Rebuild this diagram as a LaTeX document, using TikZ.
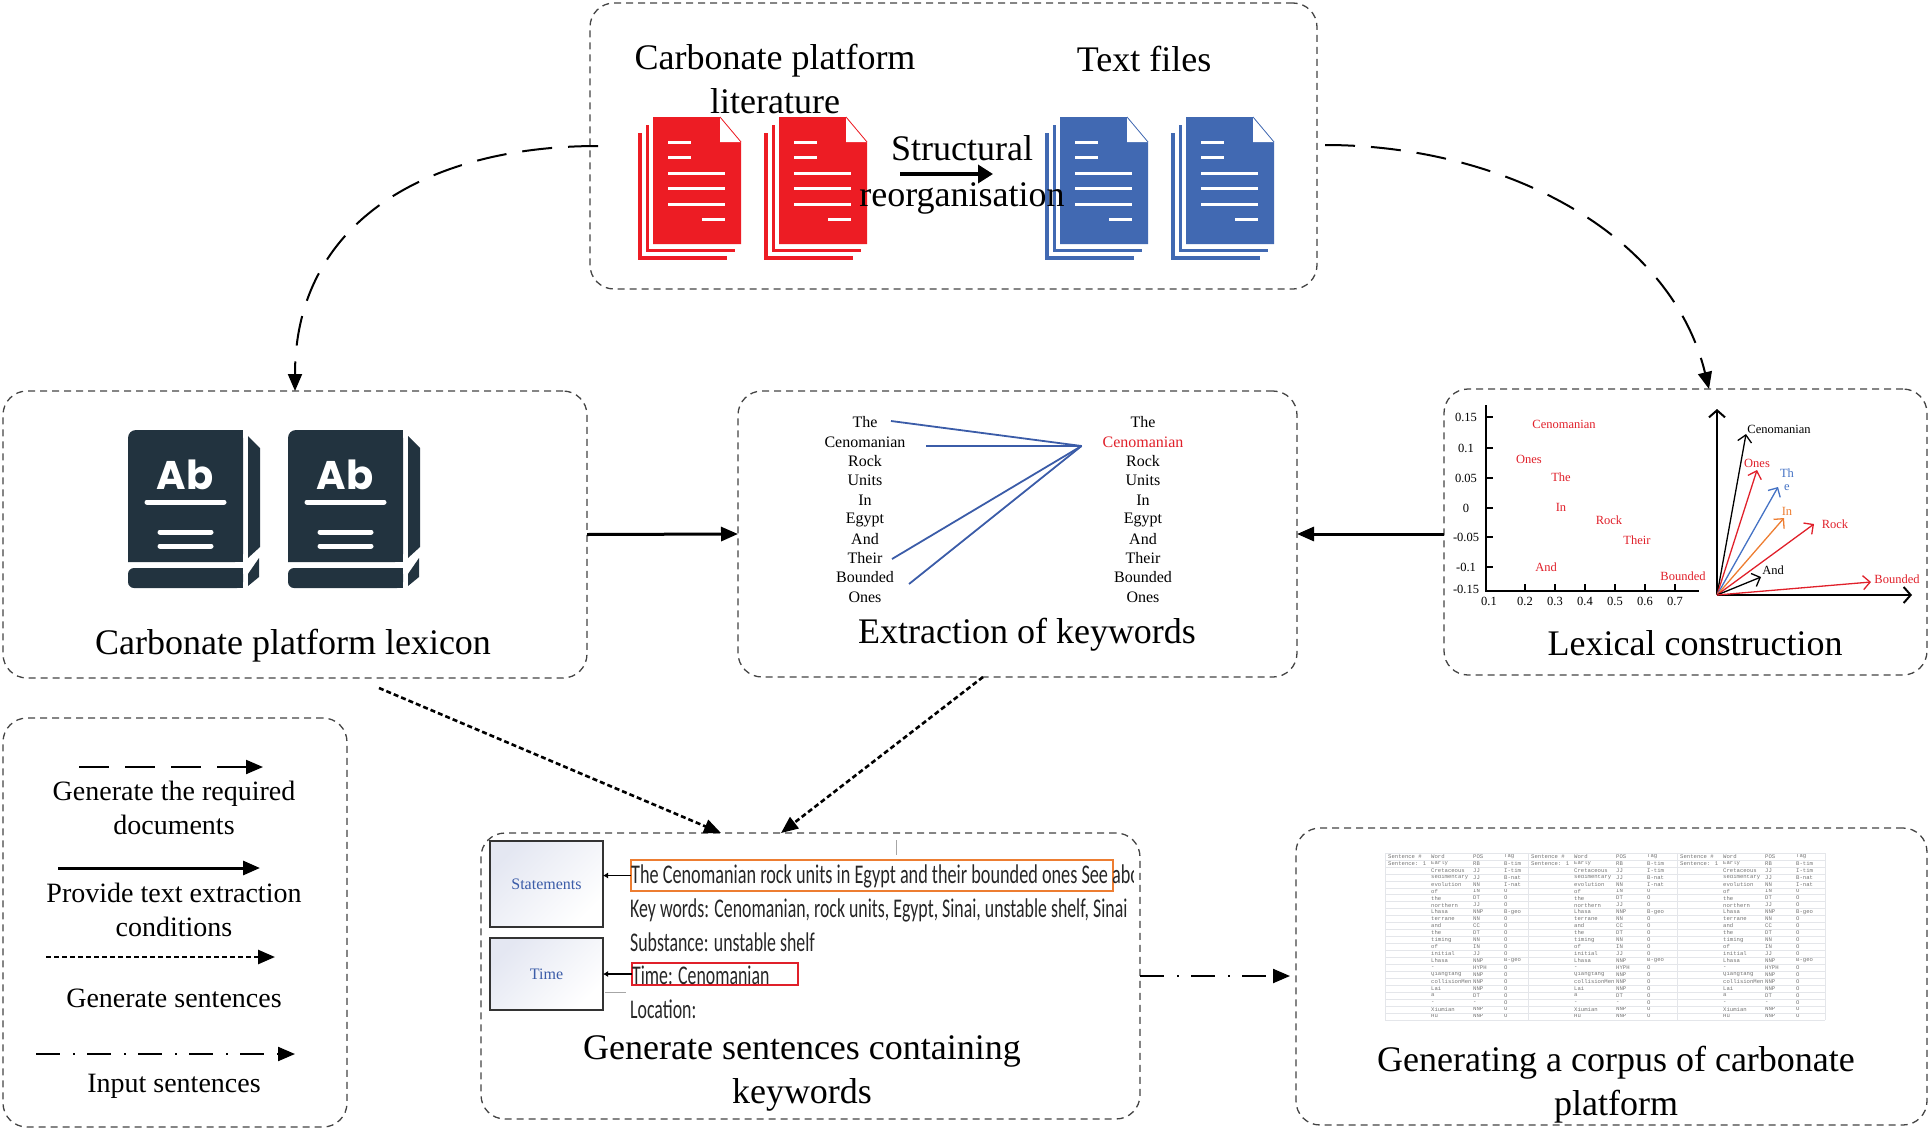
\documentclass[tikz,border=0pt]{standalone}
\usepackage{fontspec}
\setmainfont{Liberation Serif}
\newfontfamily\abfont{Poppins}
\newfontfamily\shotfont[FakeStretch=0.66]{Carlito}
\newfontfamily\shotwide[FakeStretch=0.675]{Carlito}
\newfontfamily\cellfont{Liberation Mono}
\usepackage{tikz}
\usetikzlibrary{arrows.meta,positioning,calc}
\definecolor{docred}{HTML}{ED1C24}
\definecolor{docblue}{HTML}{4169B2}
\definecolor{bookdark}{HTML}{22333F}
\definecolor{linkblue}{HTML}{3B5CA8}
\definecolor{wordred}{HTML}{E0202A}
\definecolor{wordorange}{HTML}{ED7D31}
\definecolor{wordblue}{HTML}{4472C4}
\definecolor{boxedge}{HTML}{444444}
\definecolor{cellline}{HTML}{E4E6EA}
\definecolor{panelshade}{HTML}{E4E7F2}
\begin{document}
\begin{tikzpicture}[x=1pt,y=-1pt,
        group/.style={draw=boxedge,line width=1.3pt,dash pattern=on 7pt off 5pt,rounded corners=24pt,inner sep=0pt,outer sep=0pt},
        heading/.style={font=\fontsize{36}{44}\selectfont,align=center,inner sep=0pt},
        legendtext/.style={font=\fontsize{28}{34}\selectfont,align=center,inner sep=0pt},
        word/.style={font=\fontsize{16}{18}\selectfont,inner sep=0pt},
        small/.style={font=\fontsize{12.5}{14}\selectfont,inner sep=0pt},
        shot/.style={font=\fontsize{27}{30}\shotfont,anchor=west,inner sep=0pt,text=black!85},
        cell/.style={font=\fontsize{5.6}{6}\cellfont,anchor=west,inner sep=0pt,text=black!55},
        panel/.style={draw=black!80,line width=1.6pt,top color=panelshade,bottom color=white,shading angle=45,inner sep=0pt,outer sep=0pt,minimum width=113pt,font=\fontsize{16}{18}\selectfont,text=linkblue},
        headarrow/.style={-{Triangle[length=17pt,width=14pt]}},
        longdash/.style={headarrow,line width=2pt,dash pattern=on 30pt off 16pt},
        solidline/.style={headarrow,line width=3pt},
        shortdash/.style={headarrow,line width=2.6pt,dash pattern=on 5pt off 3pt},
        dashdot/.style={headarrow,line width=2.2pt,dash pattern=on 24pt off 13pt on 2pt off 12pt},
        vec/.style={-{Straight Barb[length=7pt,width=14pt]},line width=1.3pt},
        axis/.style={-{Straight Barb[length=7pt,width=16pt]},line width=2pt}]
   \useasboundingbox (0,0) rectangle (1930,1132);

   \node (T) [group,minimum width=727pt,minimum height=286pt] at (953.5,146) {};
   \node (L) [group,minimum width=584pt,minimum height=287pt] at (295,534.5) {};
   \node (E) [group,minimum width=559pt,minimum height=286pt] at (1017.5,534) {};
   \node (X) [group,minimum width=483pt,minimum height=286pt] at (1685.5,532) {};
   \node (G) [group,minimum width=659pt,minimum height=286pt] at (810.5,976) {};
   \node (C) [group,minimum width=631pt,minimum height=297pt] at (1611.5,976.5) {};
   \node (K) [group,minimum width=344pt,minimum height=409pt] at (175,922.5) {};

   \foreach \dx/\col in {653/docred,779/docred,1060/docblue,1186/docblue} {
      \fill[\col] (\dx-15,133) rectangle (\dx+74,260);
      \fill[white] (\dx-11,130) rectangle (\dx+76,256);
      \fill[\col] (\dx-7,125) rectangle (\dx+82,252);
      \fill[white] (\dx-4,122) rectangle (\dx+84,249);
      \fill[\col] (\dx,117) -- (\dx+67,117) -- (\dx+88,142) -- (\dx+88,244) -- (\dx,244) -- cycle;
      \fill[white] (\dx+67,117) -- (\dx+88,142) -- (\dx+67,142) -- cycle;
      \draw[\col,line width=0.8pt] (\dx+67,117) -- (\dx+88,142);
      \foreach \ya/\xa/\xb in {142/15/38,157/15/38,173/15/72,188/15/72,204/15/72,219/49/72}
         \fill[white] (\dx+\xa,\ya-1.5) rectangle (\dx+\xb,\ya+1.5);
   }
   \node (T1) [heading] at (775,79) {Carbonate platform\\literature};
   \node (T2) [heading] at (1144,59) {Text files};
   \node (T3) [heading] at (962,175) {Structural\\[2pt]reorganisation};
   \coordinate (R1) at (900,174);
   \coordinate (R2) at (993,174);
   \draw[-{Triangle[length=15pt,width=18pt]},line width=3.5pt] (R1) -- (R2);

   \foreach \dx in {0,160} {
      \fill[bookdark,rounded corners=8pt] (\dx+128,562) -- (\dx+128,430) -- (\dx+243,430) -- (\dx+243,562) [sharp corners] -- cycle;
      \fill[bookdark] (\dx+138,562) rectangle (\dx+243,430);
      \fill[bookdark] (\dx+128,545) rectangle (\dx+243,562);
      \fill[bookdark,rounded corners=6pt] (\dx+128,568) rectangle (\dx+243,588);
      \fill[bookdark] (\dx+140,568) rectangle (\dx+243,588);
      \fill[bookdark] (\dx+248,436) -- (\dx+260,448) -- (\dx+260,547) -- (\dx+248,558) -- cycle;
      \fill[bookdark] (\dx+248,574) -- (\dx+259,558) -- (\dx+259,577) -- (\dx+248,586) -- cycle;
      \node (Ab\dx) [font=\fontsize{40}{44}\abfont\bfseries,text=white,inner sep=0pt] at (\dx+185,475) {Ab};
      \draw[white,line width=5pt,line cap=round] (\dx+147,502) -- (\dx+224,502);
      \draw[white,line width=5pt,line cap=round] (\dx+160,532) -- (\dx+211,532);
      \draw[white,line width=5pt,line cap=round] (\dx+160,546) -- (\dx+211,546);
   }
   \node (L1) [heading] at (293,646) {Carbonate platform lexicon};

   \foreach \t/\yy [count=\i] in {The/422.5,Cenomanian/441.8,Rock/461.2,Units/480.6,In/500.1,Egypt/519.8,And/538.8,Their/558.2,Bounded/577.5,Ones/597.1} {
      \node (A\i) [word] at (865,\yy) {\t};
      \ifnum\i=2
         \node (B\i) [word,text=wordred] at (1143,\yy) {\t};
      \else
         \node (B\i) [word] at (1143,\yy) {\t};
      \fi
   }
   \coordinate (H) at (1081.5,446);
   \coordinate (H1) at (891,421);
   \coordinate (H2) at (926,446);
   \coordinate (H3) at (892,559);
   \coordinate (H4) at (909,584);
   \foreach \n in {H1,H2,H3,H4}
      \draw[linkblue,line width=1.8pt] (\n) -- (H);
   \node (E1) [heading] at (1027,635) {Extraction of keywords};

   \coordinate (Y0) at (1486,591);
   \coordinate (Y1) at (1486,405);
   \coordinate (Y2) at (1699,591);
   \draw[line width=2pt] (Y1) -- (Y0) -- (Y2);
   \foreach \t/\yy/\ly [count=\i] in {0.15/417/417,0.1/448/448,0.05/478/478,0/508/508,-0.05/537/537,-0.1/567/567,-0.15/591/589} {
      \draw[line width=1.6pt] (1486,\yy) -- (1493,\yy);
      \node (P\i) [small] at (1466,\ly) {\t};
   }
   \foreach \t/\xx [count=\i] in {0.1/1489,0.2/1525,0.3/1555,0.4/1585,0.5/1615,0.6/1645,0.7/1675} {
      \ifnum\i>1 \draw[line width=1.6pt] (\xx,591) -- (\xx,584); \fi
      \node (Q\i) [small] at (\xx,601) {\t};
   }
   \foreach \t/\xx/\yy [count=\i] in {Cenomanian/1564/424,Ones/1529/459,The/1561/477,In/1561/507,Rock/1609/520,Their/1637/540,And/1546/567,Bounded/1683/576}
      \node (W\i) [small,text=wordred] at (\xx,\yy) {\t};

   \coordinate (O) at (1717,595);
   \coordinate (O1) at (1717,409);
   \coordinate (O2) at (1912,595);
   \draw[axis] (O) -- (O1);
   \draw[axis] (O) -- (O2);
   \foreach \n/\xx/\yy/\col in {1/1746/434/black,2/1757/470/wordred,3/1778/487/wordblue,4/1784/518/wordorange,5/1814/524/wordred,6/1761/577/black,7/1871/582/wordred} {
      \coordinate (V\n) at (\xx,\yy);
      \draw[vec,\col] (O) -- (V\n);
   }
   \foreach \t/\xx/\yy/\col [count=\i] in {Cenomanian/1779/429/black,Ones/1757/463/wordred,Th/1787/473/wordblue,e/1787/488/wordblue,In/1787/511/wordorange,Rock/1835/524/wordred,And/1773/570/black,Bounded/1897/579/wordred}
      \node (Z\i) [small,text=\col] at (\xx,\yy) {\t};
   \node (X1) [heading] at (1695,643) {Lexical construction};

   \node (S) [panel,minimum height=86pt] at (546.5,884) {Statements};
   \node (M) [panel,minimum height=72pt] at (546.5,974) {Time};
   \node (F) [draw=wordorange,line width=1.6pt,inner sep=0pt,outer sep=0pt,minimum width=482pt,minimum height=31pt] at (872,875.5) {};
   \node (N) [draw=wordred,line width=1.6pt,inner sep=0pt,outer sep=0pt,minimum width=166pt,minimum height=22pt] at (715,974) {};
   \begin{scope}
      \clip (625,850) rectangle (1133,925);
      \node (G1) [shot,font=\fontsize{27}{30}\shotwide] at (631,876) {The Cenomanian rock units in Egypt and their bounded ones See abo};
      \node (G2) [shot] at (630,910) {Key words: Cenomanian, rock units, Egypt, Sinai, unstable shelf, Sinai};
   \end{scope}
   \node (G3) [shot] at (630,942) {Substance: unstable shelf};
   \node (G4) [shot] at (632,975) {Time: Cenomanian};
   \node (G5) [shot] at (630,1009) {Location:};
   \draw[-{Latex[length=5pt,width=6pt]},line width=1.5pt] (F.west) -- (F.west -| S.east);
   \draw[-{Latex[length=5pt,width=6pt]},line width=1.5pt] (N.west) -- (N.west -| M.east);
   \draw[black!35,line width=1pt] (896,840) -- (896,855);
   \draw[black!35,line width=1pt] (605,992) -- (626,992);
   \node (G6) [heading] at (802,1073) {Generate sentences containing\\keywords};

   \foreach \dx in {0,143,292} {
      \draw[cellline,line width=0.6pt] (1385+\dx,853) -- (1385+\dx,1020);
      \foreach \w/\p/\g [count=\i] in {Word/POS/Tag,Early/RB/B-tim,Cretaceous/JJ/I-tim,sedimentary/JJ/B-nat,evolution/NN/I-nat,of/IN/O,the/DT/O,northern/JJ/O,Lhasa/NNP/B-geo,terrane/NN/O,and/CC/O,the/DT/O,timing/NN/O,of/IN/O,initial/JJ/O,Lhasa/NNP/B-geo,-/HYPH/O,Qiangtang/NNP/O,collisionMen/NNP/O,Lai/NNP/O,a/DT/O,-/-/O,Xiumian/NNP/O,Hu/NNP/O} {
         \node (a\dx\i) [cell] at (1431+\dx,849.5+\i*6.94) {\w};
         \node (b\dx\i) [cell] at (1473+\dx,849.5+\i*6.94) {\p};
         \node (c\dx\i) [cell] at (1504+\dx,849.5+\i*6.94) {\g};
      }
      \node (d\dx) [cell] at (1388+\dx,856.4) {Sentence \#};
      \node (e\dx) [cell] at (1388+\dx,863.4) {Sentence: 1};
   }
   \foreach \i in {0,...,24}
      \draw[cellline,line width=0.6pt] (1385,853+\i*6.96) -- (1825,853+\i*6.96);
   \draw[cellline,line width=0.6pt] (1825,853) -- (1825,1020);
   \node (C1) [heading] at (1616,1085) {Generating a corpus of carbonate\\platform};

   \coordinate (a) at (598,146);
   \coordinate (b) at (1325,145);
   \coordinate (b1) at (1709,389);
   \coordinate (c) at (379,688);
   \coordinate (d) at (983,677);
   \coordinate (d1) at (721,833);
   \coordinate (d2) at (781,833);
   \coordinate (g1) at (1290,976);
   \draw[longdash] (a) .. controls (430,146) and (295,220) .. (L.north);
   \draw[longdash] (b) .. controls (1500,145) and (1670,230) .. (b1);
   \draw[solidline] (L.east) -- (E.west);
   \draw[solidline] (X.west |- E.east) -- (E.east);
   \draw[shortdash] (c) -- (d1);
   \draw[shortdash] (d) -- (d2);
   \draw[dashdot] (G.east) -- (g1);

   \coordinate (k1) at (79,767);
   \coordinate (k2) at (263,767);
   \coordinate (k3) at (58,868);
   \coordinate (k4) at (260,868);
   \coordinate (k5) at (46,957);
   \coordinate (k6) at (275,957);
   \coordinate (k7) at (36,1054);
   \coordinate (k8) at (295,1054);
   \draw[longdash] (k1) -- (k2);
   \draw[solidline] (k3) -- (k4);
   \draw[shortdash] (k5) -- (k6);
   \draw[dashdot] (k7) -- (k8);
   \node (K1) [legendtext] at (174,808) {Generate the required\\documents};
   \node (K2) [legendtext] at (174,910) {Provide text extraction\\conditions};
   \node (K3) [legendtext] at (174,998) {Generate sentences};
   \node (K4) [legendtext] at (174,1086) {Input sentences};
\end{tikzpicture}
\end{document}
